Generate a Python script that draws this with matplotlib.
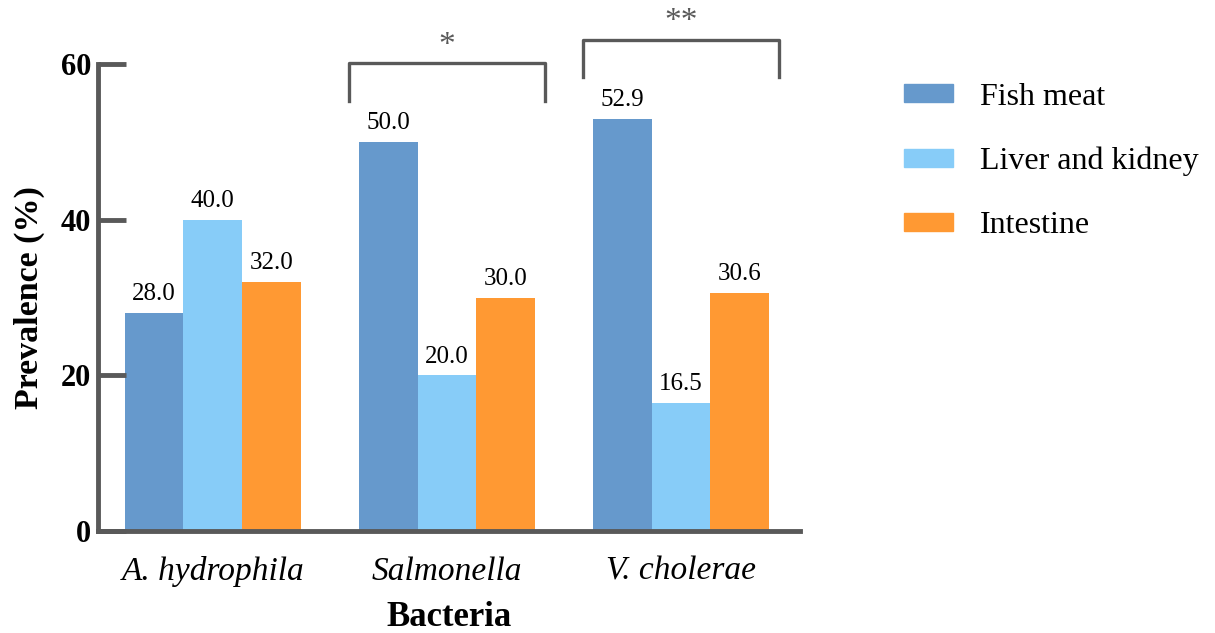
import numpy as np
import matplotlib.pyplot as plt
from matplotlib.patches import Patch

plt.rcParams['font.family'] = ['Liberation Serif', 'DejaVu Serif']

# Dados
bacteria = ["A. hydrophila", "Salmonella", "V. cholerae"]
fish_meat = [28.0, 50.0, 52.9]
liver_kidney = [40.0, 20.0, 16.5]
intestine = [32.0, 30.0, 30.6]
series_names = ["Fish meat", "Liver and kidney", "Intestine"]
colors = ["#6699CC", "#87CCF8", "#FF9933"]
signif = ["", "*", "**"]

fig = plt.figure(figsize=(12.15, 6.33), dpi=100)
ax = fig.add_axes([0.0807, 0.161, 0.578, 0.738])

x = np.arange(len(bacteria))
w = 0.25
grey = "#595959"
for i, vals in enumerate([fish_meat, liver_kidney, intestine]):
    bars = ax.bar(x + (i - 1) * w, vals, w, color=colors[i], label=series_names[i])
    for b, v in zip(bars, vals):
        ax.text(b.get_x() + b.get_width() / 2, v + 1.0, f"{v:.1f}",
                ha="center", va="bottom", fontsize=18)

# Colchetes de significancia
bracket_top = [None, 60.1, 63.1]
for k in range(len(bacteria)):
    if not signif[k]:
        continue
    top = bracket_top[k]
    x0, x1 = x[k] - 0.42, x[k] + 0.42
    ax.plot([x0, x0, x1, x1], [top - 4.8, top, top, top - 4.8], color=grey,
            lw=2.4, clip_on=False, solid_joinstyle="round")
    ax.text(x[k], top + 0.3, signif[k], ha="center", va="bottom",
            fontsize=24, color=grey)

ax.set_xlim(-0.49, 2.51)
ax.set_ylim(0, 60)
ax.set_yticks([0, 20, 40, 60])
ax.set_xticks(x)
ax.set_xticklabels(bacteria, fontsize=24, style="italic")
ax.tick_params(axis="x", length=0, pad=18)
ax.tick_params(axis="y", direction="in", length=20, width=3.5, color=grey, pad=5)
for t in ax.get_yticklabels():
    t.set_fontsize(22)
    t.set_fontweight("bold")
for s in ["top", "right"]:
    ax.spines[s].set_visible(False)
for s in ["left", "bottom"]:
    ax.spines[s].set_linewidth(3.5)
    ax.spines[s].set_color(grey)

ax.set_xlabel("Bacteria", fontsize=25, fontweight="bold", labelpad=10)
ax.set_ylabel("Prevalence (%)", fontsize=24.5, fontweight="bold")
ax.yaxis.set_label_coords(-0.075, 0.5)

handles = [Patch(color=c) for c in colors]
fig.legend(handles, series_names, loc="upper left", bbox_to_anchor=(0.72, 0.915),
           frameon=False, fontsize=23, handlelength=1.55, handleheight=0.5,
           handletextpad=0.85, labelspacing=1.1)

fig.savefig("out.png", dpi=100)
